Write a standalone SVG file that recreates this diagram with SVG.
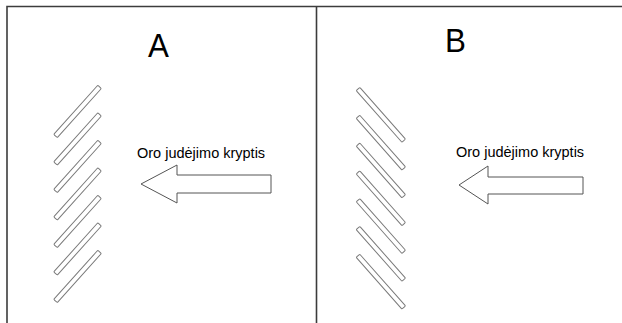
<svg xmlns="http://www.w3.org/2000/svg" xmlns:xlink="http://www.w3.org/1999/xlink" width="622" height="323" viewBox="0 0 622 323">
  <style>
    .frame { stroke: #3c3c3c; stroke-width: 1.6; fill: none; }
    .slat { fill: #ffffff; stroke: #7a7a7a; stroke-width: 1; }
    .arrow { fill: #ffffff; stroke: #555555; stroke-width: 1; }
    .title { font-family: "Liberation Sans", Arial, sans-serif; font-size: 33px; fill: #000000; }
    .label { font-family: "Liberation Sans", Arial, sans-serif; font-size: 14.5px; fill: #000000; }
  </style>
  <defs>
    <!-- slats, drawn along +x from their anchor end -->
    <rect id="slat" class="slat" x="0" y="-2.4" width="66" height="4.8" rx="1"/>
    <rect id="slat-long" class="slat" x="0" y="-2.4" width="69" height="4.8" rx="1"/>
  </defs>
  <rect width="622" height="323" fill="#ffffff"/>

  <!-- panel frame -->
  <g id="frame">
    <path class="frame" d="M7,323 V6.5 H622 M316.5,6.5 V323"/>
  </g>

  <!-- panel A -->
  <g id="panel-a">
    <text class="title" x="148" y="57" transform="translate(148,0) scale(0.95,1) translate(-148,0)">A</text>
    <g id="slats-a">
      <use xlink:href="#slat" transform="translate(55.5,136) rotate(-48.1)"/>
      <use xlink:href="#slat" transform="translate(55.5,163.5) rotate(-48.1)"/>
      <use xlink:href="#slat" transform="translate(55.5,191) rotate(-48.1)"/>
      <use xlink:href="#slat" transform="translate(55.5,218.5) rotate(-48.1)"/>
      <use xlink:href="#slat" transform="translate(55.5,246) rotate(-48.1)"/>
      <use xlink:href="#slat" transform="translate(55.5,273.5) rotate(-48.1)"/>
      <use xlink:href="#slat" transform="translate(55.5,301) rotate(-48.1)"/>
    </g>
    <g id="flow-a">
      <text class="label" x="137" y="158">Oro judėjimo kryptis</text>
      <polygon class="arrow" points="141,184 177,165 177,175 271,175 271,193 177,193 177,203"/>
    </g>
  </g>

  <!-- panel B -->
  <g id="panel-b">
    <text class="title" x="445" y="52" transform="translate(445,0) scale(0.95,1) translate(-445,0)">B</text>
    <g id="slats-b">
      <use xlink:href="#slat-long" transform="translate(358,89) rotate(48.5)"/>
      <use xlink:href="#slat-long" transform="translate(358,116.8) rotate(48.5)"/>
      <use xlink:href="#slat-long" transform="translate(358,144.6) rotate(48.5)"/>
      <use xlink:href="#slat-long" transform="translate(358,172.4) rotate(48.5)"/>
      <use xlink:href="#slat-long" transform="translate(358,200.2) rotate(48.5)"/>
      <use xlink:href="#slat-long" transform="translate(358,228) rotate(48.5)"/>
      <use xlink:href="#slat-long" transform="translate(358,255.8) rotate(48.5)"/>
    </g>
    <g id="flow-b">
      <text class="label" x="456" y="157">Oro judėjimo kryptis</text>
      <polygon class="arrow" points="459,185 488,166 488,177 583,177 583,194 488,194 488,204"/>
    </g>
  </g>
</svg>
